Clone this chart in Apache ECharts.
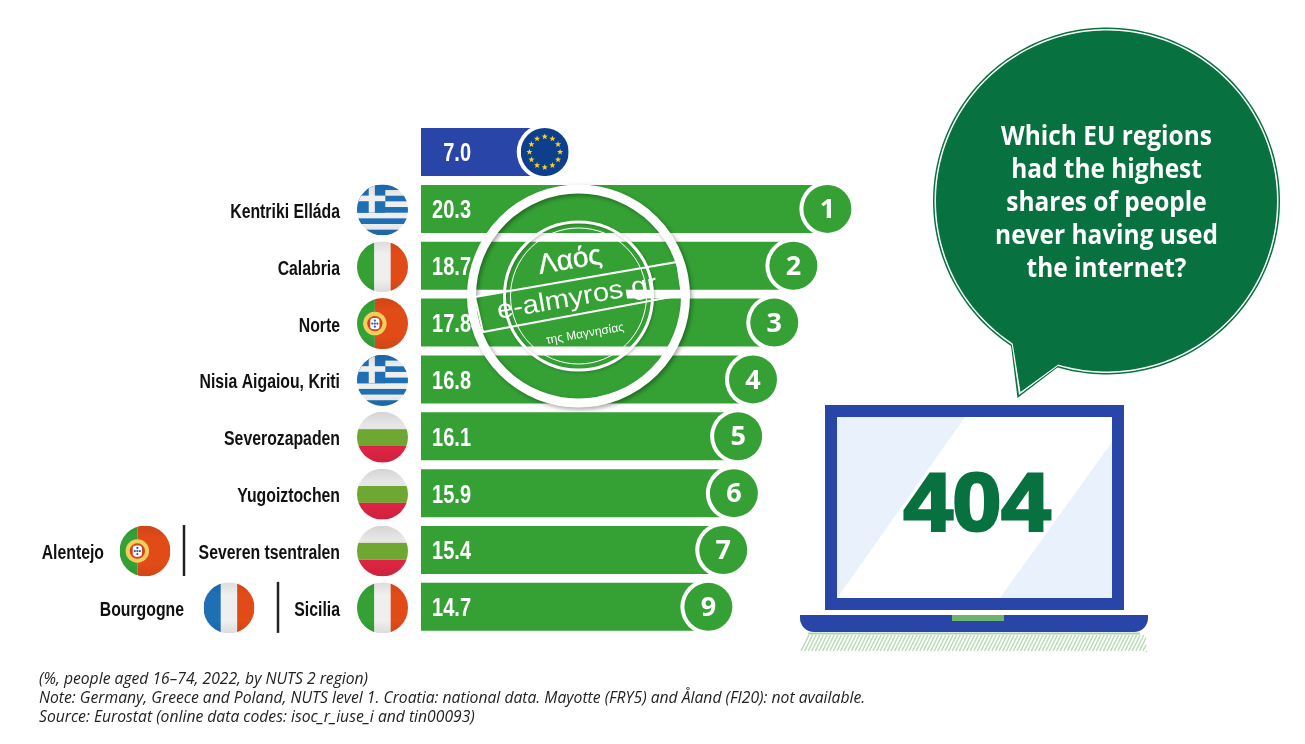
<!DOCTYPE html>
<html>
<head>
<meta charset="utf-8">
<title>Never used the internet</title>
<script src="https://cdn.jsdelivr.net/npm/echarts@6/dist/echarts.min.js"></script>
<style>
  html, body { margin: 0; padding: 0; background: #fff; }
  #main { width: 1305px; height: 744px; }
</style>
</head>
<body>
<div id="main"></div>
<script>
// chart data
const regions = ['', 'Kentriki Elláda', 'Calabria', 'Norte', 'Nisia Aigaiou, Kriti', 'Severozapaden', 'Yugoiztochen', 'Severen tsentralen', 'Sicilia'];
const shares = [7.0, 20.3, 18.7, 17.8, 16.8, 16.1, 15.9, 15.4, 14.7];
const ranks = ['', '1', '2', '3', '4', '5', '6', '7', '9'];
const flags = ['', 'gr', 'it', 'pt', 'gr', 'bg', 'bg', 'bg', 'it'];
const tiedRegions = ['', '', '', '', '', '', '', 'Alentejo', 'Bourgogne'];
const tiedFlags = ['', '', '', '', '', '', '', 'pt', 'fr'];
const question = ['Which EU regions', 'had the highest', 'shares of people', 'never having used', 'the internet?'];
const footnotes = [
  '(%, people aged 16–74, 2022, by NUTS 2 region)',
  'Note: Germany, Greece and Poland, NUTS level 1. Croatia: national data. Mayotte (FRY5) and Åland (FI20): not available.',
  'Source: Eurostat (online data codes: isoc_r_iuse_i and tin00093)'
];

const GREEN = '#35a135';
const DARK_GREEN = '#07713f';
const BLUE = '#2a45a8';
const SANS = '"Liberation Sans", sans-serif';

// little round flags, drawn as svg images
function flagBody(code) {
  const white = '#efefef', red = '#e14b18', green = '#35a135', blue = '#1f6fb4';
  if (code === 'it') return `<rect width="34" height="100" fill="${green}"/><rect x="34" width="32" height="100" fill="${white}"/><rect x="66" width="34" height="100" fill="${red}"/>`;
  if (code === 'fr') return `<rect width="34" height="100" fill="${blue}"/><rect x="34" width="32" height="100" fill="${white}"/><rect x="66" width="34" height="100" fill="${red}"/>`;
  if (code === 'bg') return `<rect width="100" height="34" fill="#e6e6e6"/><rect y="34" width="100" height="33" fill="#6ea832"/><rect y="67" width="100" height="33" fill="#dd2443"/>`;
  if (code === 'pt') {
    let s = `<rect width="35" height="100" fill="${green}"/><rect x="35" width="65" height="100" fill="${red}"/>` +
      `<circle cx="35" cy="50" r="23" fill="#f0cf5c"/><circle cx="35" cy="50" r="15" fill="#d8401c"/><rect x="26" y="39" width="18" height="22" rx="6" fill="#fff"/>`;
    [[35, 44], [30, 50], [35, 50], [40, 50], [35, 56]].forEach(p => { s += `<circle cx="${p[0]}" cy="${p[1]}" r="2.2" fill="#2a5ca8"/>`; });
    return s;
  }
  if (code === 'gr') {
    let s = `<rect width="100" height="100" fill="${white}"/>`;
    [0, 2, 4, 6, 8].forEach(k => { s += `<rect y="${k * 11.1}" width="100" height="11.1" fill="${blue}"/>`; });
    s += `<rect width="55.5" height="55.5" fill="${blue}"/><rect x="23" width="12" height="55.5" fill="${white}"/><rect y="22" width="55.5" height="11" fill="${white}"/>`;
    return s;
  }
  // EU
  let s = '<rect width="100" height="100" fill="#0e3f8c"/>';
  for (let k = 0; k < 12; k++) {
    const a = k * Math.PI / 6;
    const cx = 50 + 32 * Math.cos(a), cy = 50 + 32 * Math.sin(a);
    let pts = '';
    for (let j = 0; j < 10; j++) {
      const r = j % 2 ? 2.8 : 6.8, b = -Math.PI / 2 + j * Math.PI / 5;
      pts += `${cx + r * Math.cos(b)},${cy + r * Math.sin(b)} `;
    }
    s += `<polygon points="${pts}" fill="#f6d21f"/>`;
  }
  return s;
}
function flagImage(code) {
  const shade = code === 'eu' ? '' : '<rect width="100" height="100" fill="url(#g)"/>';
  const svg = `<svg xmlns="http://www.w3.org/2000/svg" width="200" height="200" viewBox="0 0 100 100"><defs>` +
    `<clipPath id="c"><circle cx="50" cy="50" r="50"/></clipPath>` +
    `<linearGradient id="g" x1="0" y1="0" x2="0" y2="1"><stop offset="0" stop-color="#000" stop-opacity=".08"/><stop offset=".25" stop-color="#000" stop-opacity="0"/>` +
    `<stop offset=".75" stop-color="#000" stop-opacity="0"/><stop offset="1" stop-color="#000" stop-opacity=".08"/></linearGradient></defs>` +
    `<g clip-path="url(#c)">${flagBody(code)}${shade}</g></svg>`;
  return 'data:image/svg+xml;charset=utf-8,' + encodeURIComponent(svg);
}

// squeezed bold text, no condensed font is installed
function narrowText(text, x, y, size, squeeze, align, fill) {
  return {
    type: 'text', x: x, y: y, scaleX: squeeze,
    style: { text: text, textAlign: align, textVerticalAlign: 'middle', fill: fill, font: 'bold ' + size + 'px ' + SANS }
  };
}

// bar, end badge and value text for one row
function renderRow(params, api) {
  const i = api.value(1);
  const base = api.coord([0, i]);
  const end = api.coord([api.value(0), i]);
  const isEU = i === 0;
  const cx = end[0] - 25;
  const fill = isEU ? BLUE : GREEN;
  const children = [
    { type: 'rect', shape: { x: base[0], y: end[1] - 24, width: cx - base[0], height: 48 }, style: { fill: fill } },
    { type: 'circle', shape: { cx: cx, cy: end[1], r: 28 }, style: { fill: '#fff' } },
    narrowText(shares[i].toFixed(1), base[0] + 50, end[1] + 2.5, 25, 0.8, 'right', '#fff')
  ];
  if (isEU) {
    children.push({ type: 'image', style: { image: flagImage('eu'), x: cx - 24, y: end[1] - 24, width: 48, height: 48 } });
  } else {
    children.push({ type: 'circle', shape: { cx: cx, cy: end[1], r: 24 }, style: { fill: fill } });
    children.push({ type: 'text', style: { text: ranks[i], x: cx, y: end[1] + 1.5, textAlign: 'center', textVerticalAlign: 'middle', fill: '#fff', font: 'bold 27px "Open Sans", sans-serif' } });
  }
  return { type: 'group', children: children };
}

// region names and flags left of the bars, second region on the tied rows
function renderFlags(params, api) {
  const i = api.value(0);
  const y = api.coord([0, i])[1];
  const children = [];
  if (flags[i]) {
    children.push(narrowText(regions[i], 340, y + 3.5, 20, 0.79, 'right', '#111'));
    children.push({ type: 'image', style: { image: flagImage(flags[i]), x: 357, y: y - 24.5, width: 51, height: 51 } });
  }
  if (tiedRegions[i]) {
    const lineX = i === 7 ? 184 : 278;
    const flagX = i === 7 ? 145 : 229;
    const textX = i === 7 ? 104 : 184;
    children.push({ type: 'line', shape: { x1: lineX, y1: y - 25, x2: lineX, y2: y + 26 }, style: { stroke: '#222', lineWidth: 2.5 } });
    children.push({ type: 'image', style: { image: flagImage(tiedFlags[i]), x: flagX - 25.5, y: y - 24.5, width: 51, height: 51 } });
    children.push(narrowText(tiedRegions[i], textX, y + 3.5, 20, 0.79, 'right', '#111'));
  }
  return { type: 'group', children: children };
}

// circle with a tail, centre 1106.5,201, going round from the lower left
function bubblePoints(r, tip) {
  const pts = [];
  const start = Math.atan2(Math.sqrt(1 - 0.55 * 0.55), -0.55);
  const stop = Math.atan2(Math.sqrt(1 - 0.283 * 0.283), -0.283) + Math.PI * 2;
  for (let k = 0; k <= 200; k++) {
    const a = start + (stop - start) * k / 200;
    pts.push([1106.5 + r * Math.cos(a), 201 + r * Math.sin(a)]);
  }
  pts.push(tip);
  return pts;
}

const graphics = [
  // speech bubble
  { type: 'polygon', z: 50, shape: { points: bubblePoints(173.5, [1017.5, 398]) }, style: { fill: DARK_GREEN } },
  { type: 'polygon', z: 51, shape: { points: bubblePoints(172, [1019, 395]) }, style: { fill: '#fff' } },
  { type: 'polygon', z: 52, shape: { points: bubblePoints(170.5, [1020.5, 392]) }, style: { fill: DARK_GREEN } },
  // laptop
  { type: 'rect', z: 50, shape: { x: 825, y: 405, width: 299, height: 205 }, style: { fill: BLUE } },
  { type: 'rect', z: 51, shape: { x: 837, y: 417, width: 275, height: 181 }, style: { fill: '#fff' } },
  { type: 'polygon', z: 52, shape: { points: [[837, 417], [965, 417], [837, 598]] }, style: { fill: '#e8f1fc' } },
  { type: 'polygon', z: 52, shape: { points: [[1112, 442], [1112, 598], [1000, 598]] }, style: { fill: '#e8f1fc' } },
  { type: 'rect', z: 50, shape: { x: 800, y: 615, width: 348, height: 17, r: [0, 0, 14, 14] }, style: { fill: BLUE } },
  { type: 'rect', z: 51, shape: { x: 952, y: 615, width: 52, height: 6 }, style: { fill: '#6db56e' } },
  { type: 'rect', z: 50, shape: { x: 808, y: 632.5, width: 332, height: 2 }, style: { fill: '#a9d6a6' } },
  { type: 'text', z: 53, x: 977, y: 507.5, scaleX: 1.07, style: { text: '404', textAlign: 'center', textVerticalAlign: 'middle', fill: DARK_GREEN, stroke: DARK_GREEN, lineWidth: 3, font: 'bold 82px ' + SANS } },
  // watermark stamp
  { type: 'polygon', z: 60, shape: { points: [[475, 297], [623, 271.5], [628, 305], [483, 332]] }, style: { fill: GREEN } },
  { type: 'circle', z: 61, shape: { cx: 578.5, cy: 296, r: 107 }, style: { fill: null, stroke: '#fff', lineWidth: 9, shadowColor: 'rgba(0,0,0,0.35)', shadowBlur: 4, shadowOffsetX: 2, shadowOffsetY: 2 } },
  { type: 'circle', z: 61, shape: { cx: 578.5, cy: 296, r: 74 }, style: { fill: null, stroke: '#fff', lineWidth: 3, shadowColor: 'rgba(0,0,0,0.25)', shadowBlur: 3, shadowOffsetX: 1, shadowOffsetY: 1 } },
  { type: 'circle', z: 61, shape: { cx: 578.5, cy: 296, r: 68 }, style: { fill: null, stroke: '#fff', lineWidth: 1 } },
  { type: 'polygon', z: 62, shape: { points: [[475, 297], [677, 262], [682, 295], [483, 332]] }, style: { fill: null, stroke: '#fff', lineWidth: 2 } },
  { type: 'text', z: 63, rotation: 0.17, x: 577, y: 298, scaleX: 1.12, style: { text: 'e-almyros.gr', textAlign: 'center', textVerticalAlign: 'middle', fill: '#fff', font: '26px ' + SANS, shadowColor: 'rgba(0,0,0,0.3)', shadowBlur: 2 } },
  { type: 'text', z: 63, rotation: 0.17, x: 570, y: 261, style: { text: 'Λαός', textAlign: 'center', textVerticalAlign: 'middle', fill: '#fff', stroke: '#fff', lineWidth: 0.4, font: '28px ' + SANS } },
  { type: 'text', z: 63, rotation: 0.17, x: 585, y: 334, style: { text: 'της Μαγνησίας', textAlign: 'center', textVerticalAlign: 'middle', fill: '#fff', font: '12px ' + SANS } }
];
// shadow hatching under the laptop
for (let x = 801; x < 1148; x += 3.6) {
  const top = 635;
  let x2 = x + 8, y2 = top;
  if (x2 > 1146) {
    y2 = 651 - (651 - top) * (1146 - x) / 8;
    x2 = 1146;
  }
  graphics.push({ type: 'line', z: 50, shape: { x1: x, y1: 651, x2: x2, y2: y2 }, style: { stroke: '#b4dbb1', lineWidth: 1.4 } });
}
question.forEach((line, k) => {
  graphics.push({ type: 'text', z: 53, x: 1106.5, y: 137.5 + k * 33, scaleX: 0.94, style: { text: line, textAlign: 'center', textVerticalAlign: 'middle', fill: '#fff', font: 'bold 26px "Open Sans", sans-serif' } });
});
footnotes.forEach((line, k) => {
  graphics.push({ type: 'text', z: 50, style: { text: line, x: 39, y: 680 + k * 19, textVerticalAlign: 'middle', fill: '#222', font: 'italic 15.7px "Open Sans", sans-serif' } });
});

const chart = echarts.init(document.getElementById('main'), null, { renderer: 'canvas' });
chart.setOption({
  animation: false,
  backgroundColor: '#fff',
  grid: { left: 421, top: 123.6, width: 531.25, height: 511.7 },
  xAxis: { type: 'value', min: 0, max: 25, show: false },
  yAxis: {
    type: 'category',
    inverse: true,
    data: regions,
    axisLine: { show: false },
    axisTick: { show: false },
    axisLabel: { show: false }
  },
  graphic: graphics,
  series: [
    {
      type: 'custom',
      renderItem: renderRow,
      encode: { x: 0, y: 1 },
      data: shares.map((v, i) => [v, i])
    },
    {
      type: 'custom',
      coordinateSystem: 'cartesian2d',
      renderItem: renderFlags,
      encode: { y: 0 },
      data: regions.map((r, i) => [i])
    }
  ]
});
</script>
</body>
</html>
